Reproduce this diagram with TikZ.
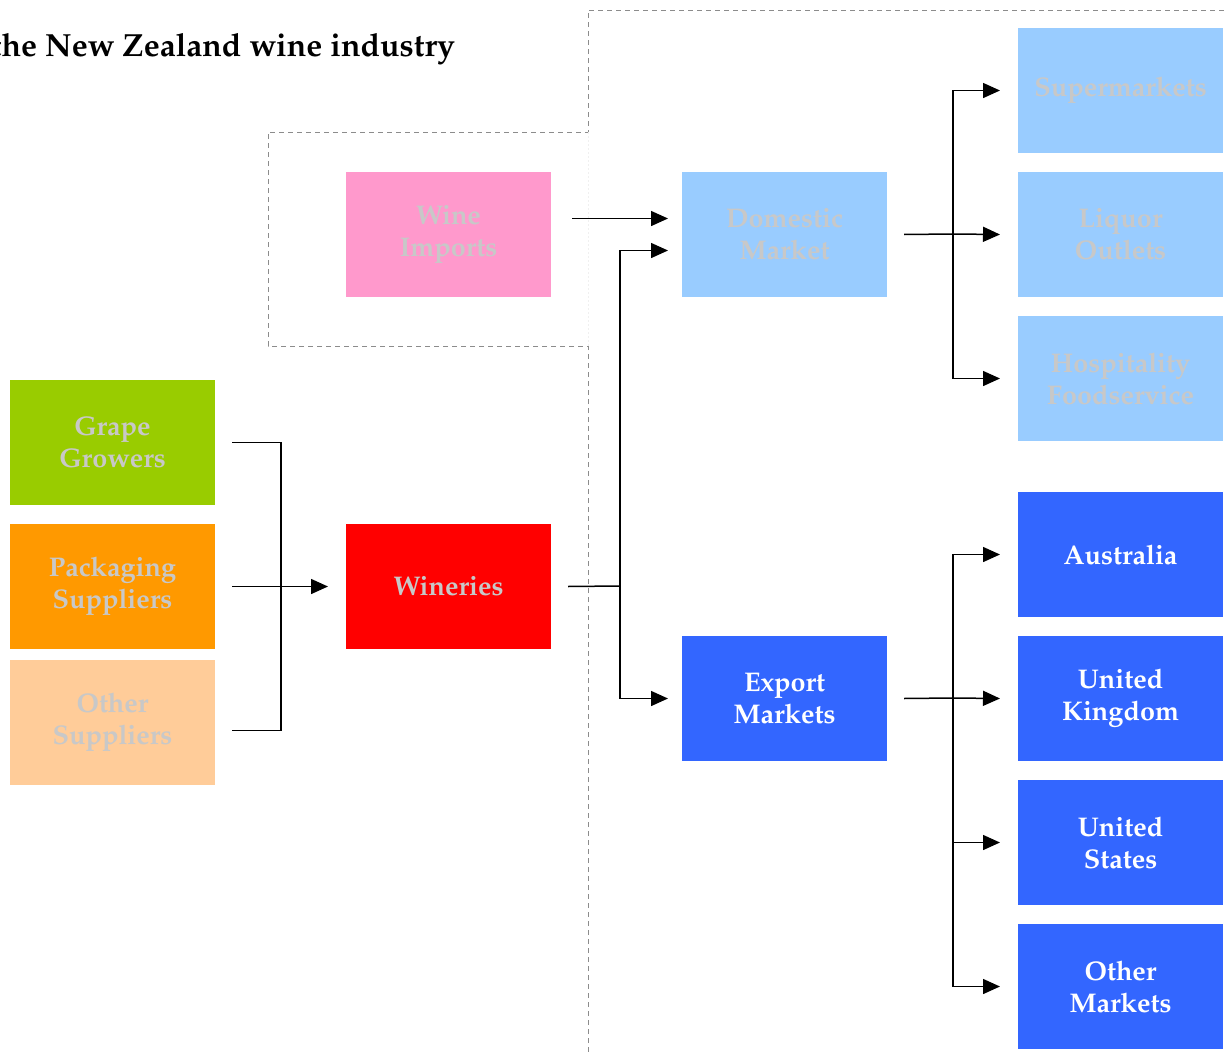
\documentclass[tikz,border=0pt]{standalone}
\usepackage[T1]{fontenc}
\usepackage{mathpazo}
\usetikzlibrary{arrows.meta}
\definecolor{txtgray}{HTML}{C8C8C8}
\definecolor{cgreen}{HTML}{99CC00}
\definecolor{corange}{HTML}{FF9900}
\definecolor{cpeach}{HTML}{FFCC99}
\definecolor{cpink}{HTML}{FF99CC}
\definecolor{cred}{HTML}{FF0000}
\definecolor{clblue}{HTML}{99CCFF}
\definecolor{cdblue}{HTML}{3366FF}
\definecolor{dashgray}{HTML}{8C8C8C}
\tikzset{
  boxnode/.style={minimum width=205pt,minimum height=125pt,inner sep=0pt,outer sep=0pt,
    align=center,font=\fontsize{27}{32}\selectfont\bfseries},
  lightbox/.style={boxnode,text=txtgray},
  darkbox/.style={boxnode,text=white},
  conn/.style={line width=1.5pt,black},
  arr/.style={conn,-{Triangle[length=17pt,width=15pt]}},
  region/.style={dashgray,line width=1pt,dash pattern=on 5pt off 4pt}
}
\begin{document}
\begin{tikzpicture}[x=1pt,y=-1pt]
\useasboundingbox (0,0) rectangle (1227,1052);
% dashed regions
\draw[region] (588,1052) -- (588,346) -- (268,346) -- (268,132) -- (588,132) -- (588,10) -- (1232,10);
\draw[gray!12,line width=1pt,dash pattern=on 2pt off 2pt] (588,132) -- (588,346);
% title
\node[anchor=base east,inner sep=0pt,font=\fontsize{32}{38}\selectfont\bfseries] (title) at (455,56) {the New Zealand wine industry};
% boxes
\node[lightbox,fill=cgreen] (grape) at (112.5,442.5) {Grape\\Growers};
\node[lightbox,fill=corange] (pack) at (112.5,586.5) {Packaging\\Suppliers};
\node[lightbox,fill=cpeach] (other) at (112.5,722.5) {Other\\Suppliers};
\node[lightbox,fill=cpink] (imports) at (448.5,234.5) {Wine\\Imports};
\node[lightbox,fill=cred] (wineries) at (448.5,586.5) {Wineries};
\node[lightbox,fill=clblue] (domestic) at (784.5,234.5) {Domestic\\Market};
\node[darkbox,fill=cdblue] (export) at (784.5,698.5) {Export\\Markets};
\node[lightbox,fill=clblue] (super) at (1120.5,90.5) {Supermarkets};
\node[lightbox,fill=clblue] (liquor) at (1120.5,234.5) {Liquor\\Outlets};
\node[lightbox,fill=clblue] (hosp) at (1120.5,378.5) {Hospitality\\Foodservice};
\node[darkbox,fill=cdblue] (aus) at (1120.5,554.5) {Australia};
\node[darkbox,fill=cdblue] (uk) at (1120.5,698.5) {United\\Kingdom};
\node[darkbox,fill=cdblue] (us) at (1120.5,842.5) {United\\States};
\node[darkbox,fill=cdblue] (om) at (1120.5,986.5) {Other\\Markets};
% supplier connectors
\coordinate (sj) at (281,586);
\draw[conn] ([xshift=17pt]grape.east) -| (sj);
\draw[conn] ([xshift=17pt,yshift=-8pt]other.east) -| (sj);
\draw[arr] ([xshift=17pt]pack.east) -- ([xshift=-18pt]wineries.west);
% wineries connectors
\coordinate (wj) at (620,586);
\draw[conn] ([xshift=17pt]wineries.east) -- (wj);
\draw[arr] (wj) |- ([xshift=-14pt,yshift=-16pt]domestic.west);
\draw[arr] (wj) |- ([xshift=-14pt]export.west);
% imports
\draw[arr] ([xshift=21pt,yshift=16pt]imports.east) -- ([xshift=-14pt,yshift=16pt]domestic.west);
% domestic branches
\coordinate (dj) at (953,234);
\draw[conn] ([xshift=17pt]domestic.east) -- (dj);
\draw[arr] (dj) |- ([xshift=-18pt]super.west);
\draw[arr] (dj) -- ([xshift=-18pt]liquor.west);
\draw[arr] (dj) |- ([xshift=-18pt]hosp.west);
% export branches
\coordinate (ej) at (953,698);
\draw[conn] ([xshift=17pt]export.east) -- (ej);
\draw[arr] (ej) |- ([xshift=-18pt]aus.west);
\draw[arr] (ej) -- ([xshift=-18pt]uk.west);
\draw[arr] (ej) |- ([xshift=-18pt]us.west);
\draw[arr] (ej) |- ([xshift=-18pt]om.west);
\end{tikzpicture}
\end{document}
